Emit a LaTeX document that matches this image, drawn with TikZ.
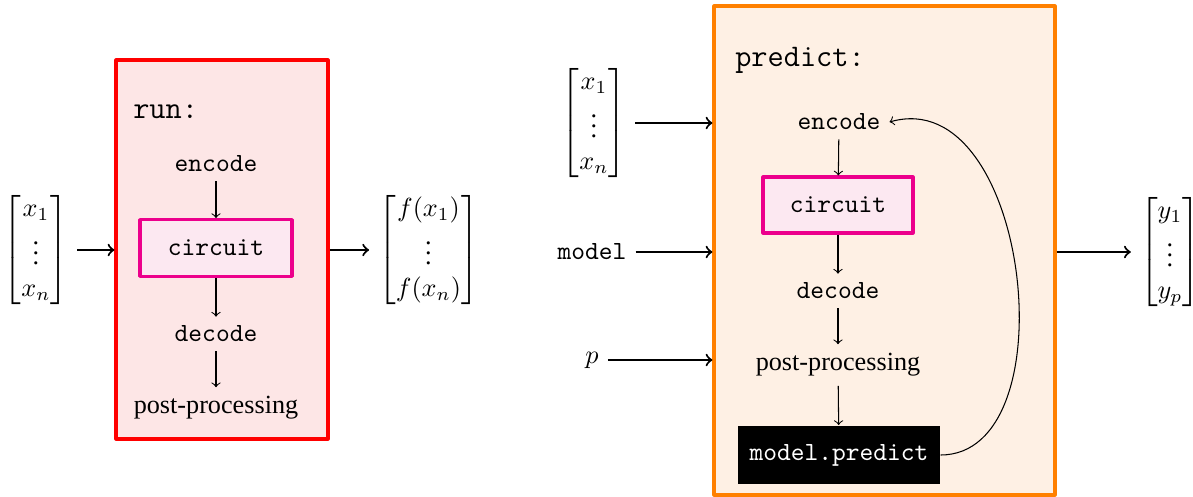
\documentclass[tikz,border=0pt]{standalone}
\usepackage{amsmath}
\usepackage{fontspec}
\setmainfont{Liberation Serif}
\definecolor{runred}{HTML}{FF0000}
\definecolor{runfill}{HTML}{FDE6E6}
\definecolor{predorange}{HTML}{FF8000}
\definecolor{predfill}{HTML}{FEF0E4}
\definecolor{circmag}{HTML}{EC008C}
\definecolor{circfill}{HTML}{FCE8F1}
\begin{document}
\begin{tikzpicture}[x=0.013412cm,y=-0.013412cm,line join=round,
	bigarrow/.style={->,thick},
	smallarrow/.style={->},
	runbox/.style={draw=runred,fill=runfill,line width=1.2pt},
	predbox/.style={draw=predorange,fill=predfill,line width=1.2pt},
	circbox/.style={draw=circmag,fill=circfill,line width=1.2pt,font=\ttfamily},
	mpbox/.style={fill=black,text=white,font=\ttfamily},
	tt/.style={font=\ttfamily}]
	\useasboundingbox (0,0) rectangle (1193,497);
	% run
	\node[runbox,minimum width=2.843cm,minimum height=5.083cm] (run) at (222,249.5) {};
	\node[anchor=west,font=\large\ttfamily] (runlbl) at (124,112) {run:};
	\node[tt] (enc1) at (216,164) {encode};
	\node[circbox,minimum width=2.04cm,minimum height=0.76cm] (circ1) at (216,248) {circuit};
	\node[tt] (dec1) at (216,334) {decode};
	\node (post1) at (216,408) {post-processing};
	\node (xin1) at (36,250) {$\begin{bmatrix}x_1\\\vdots\\x_n\end{bmatrix}$};
	\node (fout) at (428.5,250) {$\begin{bmatrix}f(x_1)\\\vdots\\f(x_n)\end{bmatrix}$};
	\draw[smallarrow] (enc1)--(circ1);
	\draw[smallarrow] (circ1)--(dec1);
	\draw[smallarrow] (dec1)--(post1);
	\draw[bigarrow] (xin1)--(xin1-|run.west);
	\draw[bigarrow] (fout-|run.east)--(fout);
	% predict
	\node[predbox,minimum width=4.573cm,minimum height=6.558cm] (pred) at (884.5,250.5) {};
	\node[anchor=west,font=\large\ttfamily] (predlbl) at (726,60) {predict:};
	\node[tt] (enc2) at (839,122) {encode};
	\node[circbox,minimum width=2.01cm,minimum height=0.75cm] (circ2) at (838,205) {circuit};
	\node[tt] (dec2) at (838,291) {decode};
	\node (post2) at (838,365) {post-processing};
	\node[mpbox,minimum width=2.71cm,minimum height=0.79cm] (mp) at (839,455) {model.predict};
	\node (xin2) at (594,123) {$\begin{bmatrix}x_1\\\vdots\\x_n\end{bmatrix}$};
	\node[tt] (model) at (592,252) {model};
	\node (p) at (592,360) {$p$};
	\node (yout) at (1170,252) {$\begin{bmatrix}y_1\\\vdots\\y_p\end{bmatrix}$};
	\draw[smallarrow] (enc2)--(circ2);
	\draw[smallarrow] (circ2)--(dec2);
	\draw[smallarrow] (dec2)--(post2);
	\draw[smallarrow] (post2)--(mp);
	\draw[->] (mp.east) .. controls +(130,0) and +(140,-40) .. (enc2.east);
	\draw[bigarrow] (xin2)--(xin2-|pred.west);
	\draw[bigarrow] (model)--(model-|pred.west);
	\draw[bigarrow] (p)--(p-|pred.west);
	\draw[bigarrow] (yout-|pred.east)--(yout);
\end{tikzpicture}
\end{document}
